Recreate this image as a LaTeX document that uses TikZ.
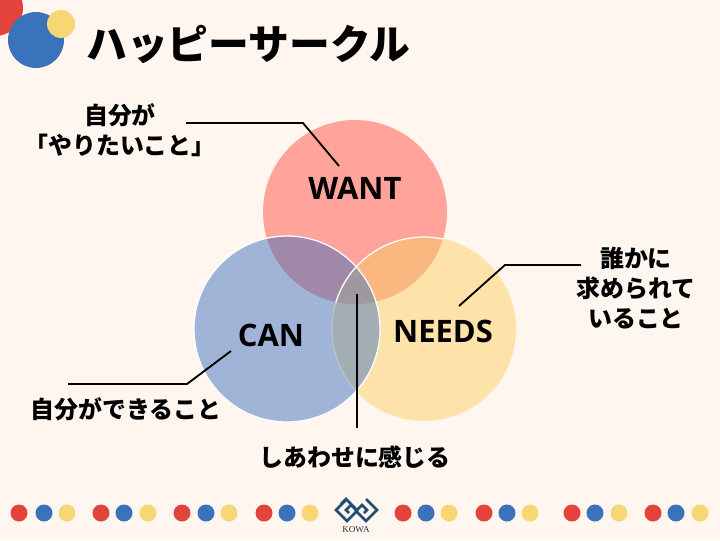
\documentclass[tikz,border=0pt]{standalone}
\usepackage{fontspec}
\setmainfont{Noto Sans CJK JP}
\newfontfamily\latinbold{Open Sans}
\newfontfamily\logofont{Liberation Serif}
\usetikzlibrary{positioning}
\definecolor{pagebg}{HTML}{FEF6EF}
\definecolor{dotred}{HTML}{E2433A}
\definecolor{dotblue}{HTML}{3A72BC}
\definecolor{dotyellow}{HTML}{F6D774}
\definecolor{wantfill}{HTML}{FFA39B}
\definecolor{canfill}{HTML}{A0B4D8}
\definecolor{needsfill}{HTML}{FDE2AA}
\definecolor{wantcan}{HTML}{9F88A8}
\definecolor{wantneeds}{HTML}{FBB780}
\definecolor{canneeds}{HTML}{A2AEB4}
\definecolor{allthree}{HTML}{A1979F}
\definecolor{logoblue}{HTML}{1F4E79}

\begin{document}
\begin{tikzpicture}[
  x=0.025cm, y=-0.025cm,
  title/.style={font=\fontsize{29}{34}\selectfont\bfseries, text=black, anchor=west, inner sep=0pt},
  setlab/.style={font=\fontsize{22}{25}\selectfont\latinbold\bfseries, text=black, inner sep=0pt},
  note/.style={font=\fontsize{17}{21.5}\selectfont\bfseries, text=black, align=center, inner sep=0pt},
  leader/.style={line width=1.3pt, black, line join=miter},
  edge/.style={draw=white, line width=0.9pt},
  logoline/.style={draw=logoblue, line width=1.9pt, line join=miter},
]
\fill[pagebg] (0,0) rectangle (720,540);
\useasboundingbox (0,0) rectangle (720,540);

% header badge
\fill[dotred] (-5,8) circle [radius=28];
\fill[dotblue] (36,40) circle [radius=28];
\fill[dotyellow] (61,24) circle [radius=14];
\node[title] (head) at (86,44) {ハッピーサークル};

% three sets and their overlaps
\coordinate (wantc) at (355,212);
\coordinate (canc) at (287,329);
\coordinate (needsc) at (424,329);
\fill[wantfill] (wantc) circle [radius=92];
\fill[needsfill] (needsc) circle [radius=92];
\fill[canfill] (canc) circle [radius=93];
\begin{scope}
  \clip (wantc) circle [radius=92];
  \fill[wantneeds] (needsc) circle [radius=92];
  \fill[wantcan] (canc) circle [radius=93];
\end{scope}
\begin{scope}
  \clip (canc) circle [radius=93];
  \fill[canneeds] (needsc) circle [radius=92];
  \draw[edge, white!25!canneeds] (needsc) circle [radius=92];
  \clip (needsc) circle [radius=92];
  \fill[allthree] (wantc) circle [radius=92];
\end{scope}
\begin{scope}
  \clip (wantc) circle [radius=92.5];
  \draw[edge] (needsc) circle [radius=92];
\end{scope}
\draw[edge] (canc) circle [radius=93];

\node[setlab] (want) at (355,188) {WANT};
\node[setlab] (can) at (271,335) {CAN};
\node[setlab] (needs) at (443,331) {NEEDS};

% leader lines
\node[note] (noteW) at (120,130) {自分が\\「やりたいこと」};
\node[note] (noteN) at (636,288) {誰かに\\求められて\\いること};
\node[note] (noteC) at (126,409) {自分ができること};
\node[note] (noteH) at (355,457) {しあわせに感じる};
\coordinate (w0) at (186,123);
\coordinate (w1) at (303,123);
\coordinate (w2) at (339,166);
\coordinate (n0) at (581,265);
\coordinate (n1) at (505,265);
\coordinate (n2) at (459,306);
\coordinate (c0) at (68,384);
\coordinate (c1) at (187,384);
\coordinate (c2) at (231,351);
\coordinate (h0) at (357,294);
\coordinate (h1) at (357,428);
\draw[leader] (w0) -- (w1) -- (w2);
\draw[leader] (n0) -- (n1) -- (n2);
\draw[leader] (c0) -- (c1) -- (c2);
\draw[leader] (h0) -- (h1);

% footer dots
\foreach \xa/\xb/\xc in {19/44/67, 101/124/148, 182/206/229, 264/287/310,
                         403/426/449, 484/507/530, 572/595/619, 653/676/700} {
  \fill[dotred] (\xa,513) circle [radius=8.5];
  \fill[dotblue] (\xb,513) circle [radius=8.5];
  \fill[dotyellow] (\xc,513) circle [radius=8.5];
}

% logo
\draw[logoline] (347,499) -- (336,510) -- (347,521) -- (357,511) -- (351,505) -- (346,510) -- (349,513);
\draw[logoline] (341,504) -- (346,499) -- (356,509);
\draw[logoline] (366,499) -- (377,510) -- (366,521) -- (356,511) -- (362,505) -- (367,510) -- (364,513);
\node[font=\fontsize{6.5}{7}\selectfont\logofont, text=black!80, inner sep=0pt] (kowa) at (356,530) {KOWA};
\end{tikzpicture}
\end{document}
